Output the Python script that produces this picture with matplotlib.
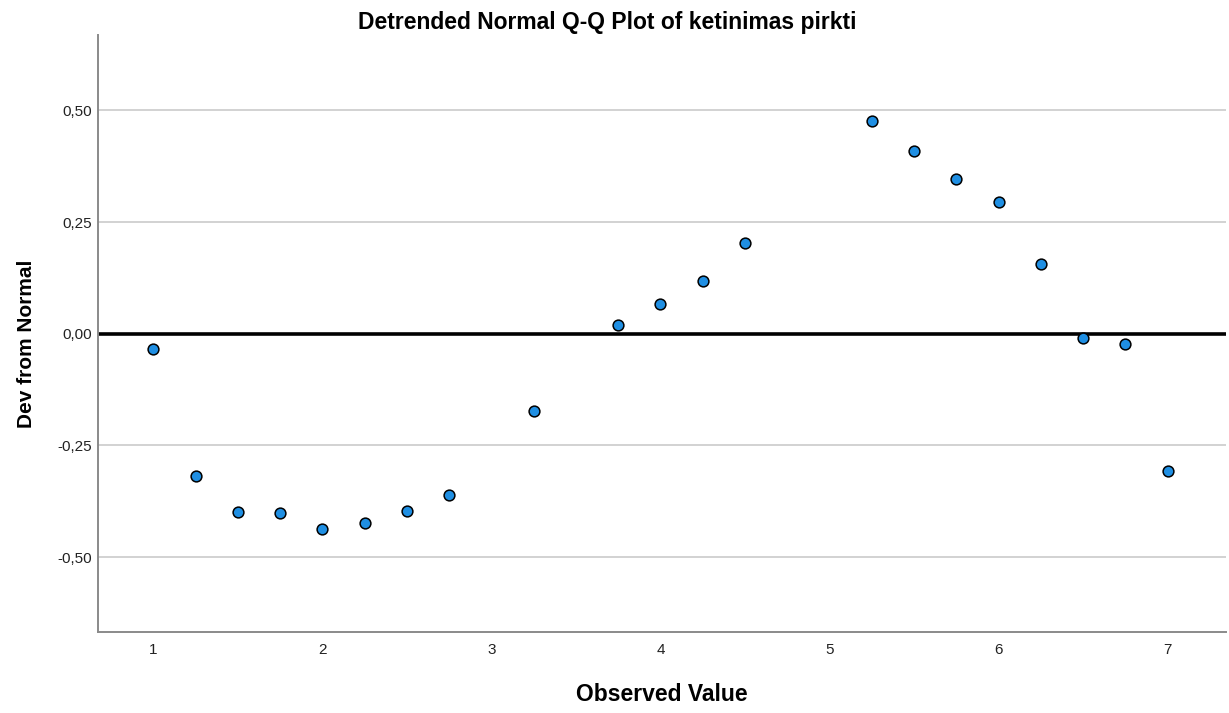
import matplotlib.pyplot as plt
import numpy as np

plt.rcParams['font.family'] = ['Liberation Sans', 'DejaVu Sans']

# observed values and their deviation from the normal quantiles
observed = [1.0, 1.25, 1.5, 1.75, 2.0, 2.25, 2.5, 2.75, 3.25, 3.75, 4.0,
            4.25, 4.5, 5.25, 5.5, 5.75, 6.0, 6.25, 6.5, 6.75, 7.0]
dev = [-0.033, -0.319, -0.400, -0.402, -0.436, -0.423, -0.396, -0.362,
       -0.174, 0.019, 0.067, 0.119, 0.204, 0.477, 0.410, 0.347, 0.295,
       0.157, -0.010, -0.024, -0.308]

yticks = [-0.5, -0.25, 0.0, 0.25, 0.5]
ytick_labels = ['-0,50', '-0,25', '0,00', '0,25', '0,50']
xticks = [1, 2, 3, 4, 5, 6, 7]

fig = plt.figure(figsize=(12.29, 7.13), dpi=100)
ax = fig.add_axes([0.080, 0.114, 0.9176, 0.837])

ax.set_xlim(0.675, 7.345)
ax.set_ylim(-0.667, 0.669)

for y in yticks:
    if y != 0:
        ax.axhline(y, color='#cfcfcf', lw=1.3, zorder=0)
ax.axhline(0, color='black', lw=2.6, zorder=1)

ax.scatter(observed, dev, s=60, c='#1f8fe3', edgecolors='black',
           linewidths=1.1, zorder=3)

ax.set_yticks(yticks)
ax.set_yticklabels(ytick_labels)
ax.set_xticks(xticks)
ax.tick_params(length=0, labelsize=11, colors='#222222')
ax.tick_params(axis='y', pad=4.5)
ax.tick_params(axis='x', pad=8)

for side in ['top', 'right']:
    ax.spines[side].set_visible(False)
for side in ['left', 'bottom']:
    ax.spines[side].set_color('#8a8a8a')
    ax.spines[side].set_linewidth(1.4)

# axis titles and chart title placed on the figure
fig.text(0.5387, 0.0168, 'Observed Value', ha='center', va='baseline',
         fontsize=16.5, fontweight='bold')
fig.text(0.0212, 0.518, 'Dev from Normal', ha='center', va='center',
         rotation=90, fontsize=15, fontweight='bold')
fig.text(0.494, 0.960, 'Detrended Normal Q-Q Plot of ketinimas pirkti',
         ha='center', va='baseline', fontsize=16.5, fontweight='bold')

fig.savefig('out.png', dpi=100)
